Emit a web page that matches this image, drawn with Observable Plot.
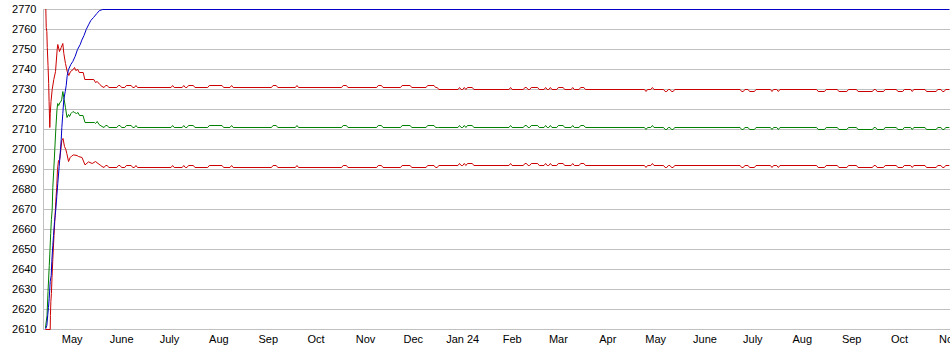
<!DOCTYPE html>
<html>
<head>
<meta charset="utf-8">
<script src="https://cdn.jsdelivr.net/npm/d3@7"></script>
<script src="https://cdn.jsdelivr.net/npm/@observablehq/plot@0.6"></script>
<style>
  html, body { margin: 0; padding: 0; background: #fff; }
</style>
</head>
<body>
<div id="chart"></div>
<script>
// ---------- axis data ----------
const yTicks = [2610, 2620, 2630, 2640, 2650, 2660, 2670, 2680, 2690, 2700, 2710, 2720, 2730, 2740, 2750, 2760, 2770];
const tickDates = ["2023-05-01","2023-06-01","2023-07-01","2023-08-01","2023-09-01","2023-10-01","2023-11-01","2023-12-01",
                   "2024-01-01","2024-02-01","2024-03-01","2024-04-01","2024-05-01","2024-06-01","2024-07-01","2024-08-01",
                   "2024-09-01","2024-10-01","2024-11-01"];
const tickLabels = ["May","June","July","Aug","Sep","Oct","Nov","Dec",
                    "Jan 24","Feb","Mar","Apr","May","June","July","Aug",
                    "Sep","Oct","Nov"];
const xDomain = ["2023-04-13", "2024-11-02"];

// ---------- early (transient) part of each series: [time, value] ----------
const blueSeries = [
  ["2023-04-14T11:00Z",2610.5],["2023-04-15T02:00Z",2612],["2023-04-15T17:00Z",2617.5],["2023-04-16T03:00Z",2621],
  ["2023-04-16T14:00Z",2625.5],["2023-04-17T05:00Z",2634],["2023-04-17T20:00Z",2637],["2023-04-18T05:00Z",2644],
  ["2023-04-18T20:00Z",2652],["2023-04-19T07:00Z",2657],["2023-04-19T22:00Z",2664],["2023-04-20T08:00Z",2667],
  ["2023-04-20T17:00Z",2670],["2023-04-21T08:00Z",2676.5],["2023-04-21T23:00Z",2683],["2023-04-22T20:00Z",2691.5],
  ["2023-04-23T16:00Z",2700],["2023-04-24T03:00Z",2705],["2023-04-24T12:00Z",2711],["2023-04-25T03:00Z",2718],
  ["2023-04-25T18:00Z",2725],["2023-04-26T15:00Z",2729],["2023-04-27T06:00Z",2732],["2023-04-27T21:00Z",2737],
  ["2023-04-28T17:00Z",2740],["2023-04-30T03:00Z",2742.5],["2023-05-01T09:00Z",2744],["2023-05-02T21:00Z",2746.6],
  ["2023-05-04T08:00Z",2750],["2023-05-06T01:00Z",2752.5],["2023-05-07T01:00Z",2754.7],["2023-05-08T10:00Z",2757],
  ["2023-05-09T19:00Z",2760],["2023-05-11T06:00Z",2762.3],["2023-05-12T16:00Z",2764.5],["2023-05-14T09:00Z",2766],
  ["2023-05-16T11:00Z",2768],["2023-05-18T03:00Z",2769.5],["2023-05-20T05:00Z",2770],["2024-11-01T00:00Z",2770]
];
const upperEarly = [
  ["2023-04-14T11:00Z",2770],["2023-04-14T17:00Z",2761],["2023-04-15T02:00Z",2759],["2023-04-15T09:00Z",2751],
  ["2023-04-15T20:00Z",2742],["2023-04-16T06:00Z",2733],["2023-04-16T12:00Z",2724],["2023-04-16T23:00Z",2711],
  ["2023-04-17T06:00Z",2718],["2023-04-17T17:00Z",2724],["2023-04-18T11:00Z",2730],["2023-04-19T11:00Z",2735],
  ["2023-04-20T13:00Z",2739],["2023-04-21T14:00Z",2750],["2023-04-21T23:00Z",2752.5],["2023-04-23T01:00Z",2749],
  ["2023-04-24T03:00Z",2751],["2023-04-25T03:00Z",2753],["2023-04-25T18:00Z",2748],["2023-04-26T19:00Z",2743],
  ["2023-04-27T21:00Z",2739],["2023-04-28T21:00Z",2737],["2023-04-29T23:00Z",2739],["2023-05-01T15:00Z",2740],
  ["2023-05-02T11:00Z",2741],["2023-05-03T06:00Z",2739.5],["2023-05-04T13:00Z",2740],["2023-05-05T10:00Z",2738.5],
  ["2023-05-07T22:00Z",2738.5],["2023-05-08T22:00Z",2735],["2023-05-14T13:00Z",2735],["2023-05-15T15:00Z",2733.5],
  ["2023-05-16T17:00Z",2734],["2023-05-18T08:00Z",2732.5],["2023-05-19T17:00Z",2731.5]
];
const middleEarly = [
  ["2023-04-14T06:00Z",2611],["2023-04-15T05:00Z",2617],["2023-04-15T20:00Z",2629],["2023-04-16T15:00Z",2642],
  ["2023-04-17T02:00Z",2650],["2023-04-17T12:00Z",2658],["2023-04-17T23:00Z",2665],["2023-04-18T11:00Z",2670],
  ["2023-04-18T20:00Z",2681],["2023-04-19T11:00Z",2690],["2023-04-20T02:00Z",2700],["2023-04-20T17:00Z",2710],
  ["2023-04-21T11:00Z",2720],["2023-04-21T22:00Z",2723],["2023-04-22T13:00Z",2722],["2023-04-23T06:00Z",2723.5],
  ["2023-04-24T00:00Z",2724],["2023-04-24T10:00Z",2725],["2023-04-25T03:00Z",2729],["2023-04-25T18:00Z",2726],
  ["2023-04-26T19:00Z",2721],["2023-04-27T18:00Z",2716],["2023-04-28T17:00Z",2717.5],["2023-04-29T08:00Z",2716.5],
  ["2023-04-30T06:00Z",2718],["2023-05-01T12:00Z",2719],["2023-05-02T11:00Z",2718.5],["2023-05-03T17:00Z",2718],
  ["2023-05-04T16:00Z",2718.5],["2023-05-05T14:00Z",2717],["2023-05-07T19:00Z",2717],["2023-05-09T01:00Z",2713.5],
  ["2023-05-15T00:00Z",2713.5],["2023-05-15T15:00Z",2713],["2023-05-16T17:00Z",2714],["2023-05-17T20:00Z",2712.5],
  ["2023-05-19T17:00Z",2711.5]
];
const lowerEarly = [
  ["2023-04-14T11:00Z",2610],["2023-04-17T05:00Z",2610],["2023-04-17T08:00Z",2617],["2023-04-17T15:00Z",2624],
  ["2023-04-17T23:00Z",2628],["2023-04-18T08:00Z",2636],["2023-04-18T20:00Z",2645],["2023-04-19T14:00Z",2657],
  ["2023-04-20T05:00Z",2666],["2023-04-20T17:00Z",2674],["2023-04-21T07:00Z",2681],["2023-04-21T19:00Z",2690],
  ["2023-04-22T10:00Z",2694.5],["2023-04-23T04:00Z",2695],["2023-04-23T21:00Z",2700],["2023-04-24T12:00Z",2704.5],
  ["2023-04-25T06:00Z",2705.5],["2023-04-26T04:00Z",2701.5],["2023-04-27T00:00Z",2700],["2023-04-27T15:00Z",2698],
  ["2023-04-28T17:00Z",2694],["2023-04-29T18:00Z",2696],["2023-04-30T18:00Z",2696.8],["2023-05-01T20:00Z",2697.3],
  ["2023-05-04T01:00Z",2697],["2023-05-04T23:00Z",2696.5],["2023-05-07T04:00Z",2696],["2023-05-09T01:00Z",2692.3],
  ["2023-05-11T06:00Z",2693.8],["2023-05-13T13:00Z",2693],["2023-05-15T15:00Z",2694],["2023-05-17T05:00Z",2693],
  ["2023-05-18T14:00Z",2692.2],["2023-05-19T17:00Z",2691.5]
];

// ---------- settled part: shared dates, one value list per series ----------
const stableDates = [
  "2023-05-21","2023-05-22","2023-05-23","2023-05-24","2023-05-29","2023-05-30","2023-05-31","2023-06-01","2023-06-03","2023-06-04","2023-06-07","2023-06-08","2023-06-09","2023-06-10","2023-06-11",
  "2023-07-02","2023-07-03","2023-07-04","2023-07-09","2023-07-10","2023-07-11","2023-07-12","2023-07-13","2023-07-16","2023-07-17","2023-07-25","2023-07-26","2023-08-03","2023-08-04","2023-08-08","2023-08-09","2023-08-10",
  "2023-09-03","2023-09-04","2023-09-06","2023-09-07","2023-09-18","2023-09-19","2023-09-20","2023-10-17","2023-10-18","2023-10-20","2023-10-21",
  "2023-11-08","2023-11-09","2023-11-11","2023-11-12","2023-11-23","2023-11-24","2023-11-29","2023-11-30","2023-12-09","2023-12-10","2023-12-14","2023-12-15","2023-12-16","2023-12-17","2023-12-29","2023-12-30","2023-12-31",
  "2024-01-01","2024-01-02","2024-01-03","2024-01-04","2024-01-07","2024-01-08","2024-01-30","2024-01-31","2024-02-01","2024-02-08","2024-02-09","2024-02-10","2024-02-11","2024-02-12","2024-02-13","2024-02-17","2024-02-18","2024-02-21","2024-02-22","2024-02-23","2024-02-24","2024-02-25","2024-02-26","2024-02-29",
  "2024-03-01","2024-03-04","2024-03-05","2024-03-09","2024-03-10","2024-03-11","2024-03-14","2024-03-15","2024-03-17","2024-03-18","2024-04-24","2024-04-25","2024-04-26","2024-04-28","2024-04-29","2024-04-30","2024-05-06","2024-05-07","2024-05-08","2024-05-09","2024-05-10","2024-05-11","2024-05-12","2024-05-13",
  "2024-06-23","2024-06-24","2024-06-25","2024-06-26","2024-06-28","2024-06-29","2024-07-02","2024-07-03","2024-07-12","2024-07-13","2024-07-14","2024-07-16","2024-07-17","2024-07-18","2024-08-10","2024-08-11","2024-08-15","2024-08-16","2024-08-23","2024-08-24","2024-08-29","2024-08-30",
  "2024-09-04","2024-09-05","2024-09-14","2024-09-15","2024-09-16","2024-09-17","2024-09-21","2024-09-22","2024-09-29","2024-09-30","2024-10-03","2024-10-04","2024-10-08","2024-10-09","2024-10-10","2024-10-17","2024-10-18","2024-10-24","2024-10-25","2024-10-27","2024-10-28","2024-10-29","2024-10-30","2024-11-01"
];
const upperStable = [
  2731,2732,2732,2731,2731,2732,2732,2731,2731,2732,2732,2731,2731,2732,2731,
  2731,2732,2731,2731,2732,2731,2731,2732,2732,2731,2731,2732,2732,2731,2731,2732,2731,
  2731,2732,2732,2731,2731,2732,2731,2731,2732,2732,2731,
  2731,2732,2732,2731,2731,2732,2732,2731,2731,2732,2732,2731,2731,2730,2730,2731,2730,
  2730,2731,2730,2731,2731,2730,2730,2731,2730,2730,2731,2731,2730,2730,2731,2731,2730,2730,2731,2730,2730,2731,2730,2730,
  2731,2731,2730,2730,2731,2730,2730,2731,2731,2730,2730,2729,2730,2730,2731,2730,2730,2729,2729,2730,2730,2729,2729,2730,
  2730,2729,2729,2730,2730,2729,2729,2730,2730,2729,2730,2730,2729,2730,2730,2729,2729,2730,2730,2729,2729,2730,
  2730,2729,2729,2730,2730,2729,2729,2730,2730,2729,2729,2730,2730,2729,2730,2730,2729,2729,2730,2730,2729,2729,2730,2730
];
const middleStable = [
  2711,2712,2712,2711,2711,2712,2712,2711,2711,2712,2712,2711,2711,2712,2711,
  2711,2712,2711,2711,2712,2711,2711,2712,2712,2711,2711,2712,2712,2711,2711,2712,2711,
  2711,2712,2712,2711,2711,2712,2711,2711,2712,2712,2711,
  2711,2712,2712,2711,2711,2712,2712,2711,2711,2712,2712,2711,2711,2711,2711,2712,2711,
  2711,2712,2711,2712,2712,2711,2711,2712,2711,2711,2712,2712,2711,2711,2712,2712,2711,2711,2712,2711,2711,2712,2711,2711,
  2712,2712,2711,2711,2712,2711,2711,2712,2712,2711,2711,2710,2711,2711,2712,2711,2711,2710,2710,2711,2711,2710,2710,2711,
  2711,2710,2710,2711,2711,2710,2710,2711,2711,2710,2711,2711,2710,2711,2711,2710,2710,2711,2711,2710,2710,2711,
  2711,2710,2710,2711,2711,2710,2710,2711,2711,2710,2710,2711,2711,2710,2711,2711,2710,2710,2711,2711,2710,2710,2711,2711
];
const lowerStable = [
  2691,2692,2692,2691,2691,2692,2692,2691,2691,2692,2692,2691,2691,2692,2691,
  2691,2692,2691,2691,2692,2691,2691,2692,2692,2691,2691,2692,2692,2691,2691,2692,2691,
  2691,2692,2692,2691,2691,2692,2691,2691,2692,2692,2691,
  2691,2692,2692,2691,2691,2692,2692,2691,2691,2692,2692,2691,2691,2692,2692,2693,2692,
  2692,2693,2692,2693,2693,2692,2692,2693,2692,2692,2693,2693,2692,2692,2693,2693,2692,2692,2693,2692,2692,2693,2692,2692,
  2693,2693,2692,2692,2693,2692,2692,2693,2693,2692,2692,2691,2692,2692,2693,2692,2692,2691,2691,2692,2692,2691,2691,2692,
  2692,2691,2691,2692,2692,2691,2691,2692,2692,2691,2692,2692,2691,2692,2692,2691,2691,2692,2692,2691,2691,2692,
  2692,2691,2691,2692,2692,2691,2691,2692,2692,2691,2691,2692,2692,2691,2692,2692,2691,2691,2692,2692,2691,2691,2692,2692
];

// ---------- build tables ----------
const toRows = (pairs) => pairs.map(([t, v]) => ({date: new Date(t), value: v}));
const stableRows = (vals) => stableDates.map((d, i) => ({date: new Date(d), value: vals[i]}));
const blueRows = toRows(blueSeries);
const upperRows = toRows(upperEarly).concat(stableRows(upperStable));
const middleRows = toRows(middleEarly).concat(stableRows(middleStable));
const lowerRows = toRows(lowerEarly).concat(stableRows(lowerStable));

const labelByTime = new Map(tickDates.map((d, i) => [+new Date(d), tickLabels[i]]));
const xStart = new Date(xDomain[0]);
const xEnd = new Date(xDomain[1]);

const RED = "#cc0000", GREEN = "#008000", BLUE = "#0000c8", GRID = "#c0c0c0";

const chart = Plot.plot({
  width: 950,
  height: 355,
  marginLeft: 43,
  marginRight: 0,
  marginTop: 9,
  marginBottom: 26,
  style: {fontFamily: "'Liberation Sans', Arial, Helvetica, sans-serif", fontSize: "11px", color: "#000", background: "#fff"},
  x: {type: "utc", domain: [xStart, xEnd]},
  y: {domain: [2610, 2770]},
  marks: [
    Plot.gridY(yTicks, {stroke: GRID, strokeOpacity: 1}),
    Plot.ruleX([xStart], {stroke: GRID, strokeOpacity: 1}),
    Plot.axisY(yTicks, {tickSize: 0, tickPadding: 7, label: null, fill: "#000", tickFormat: d => String(d)}),
    Plot.axisX(tickDates.map(d => new Date(d)), {tickSize: 0, tickPadding: 6, label: null, fill: "#000",
      tickFormat: d => labelByTime.get(+d)}),
    Plot.line(lowerRows, {x: "date", y: "value", stroke: RED, strokeWidth: 1}),
    Plot.line(middleRows, {x: "date", y: "value", stroke: GREEN, strokeWidth: 1}),
    Plot.line(upperRows, {x: "date", y: "value", stroke: RED, strokeWidth: 1}),
    Plot.line(blueRows, {x: "date", y: "value", stroke: BLUE, strokeWidth: 1})
  ]
});
document.getElementById("chart").appendChild(chart);
</script>
</body>
</html>
